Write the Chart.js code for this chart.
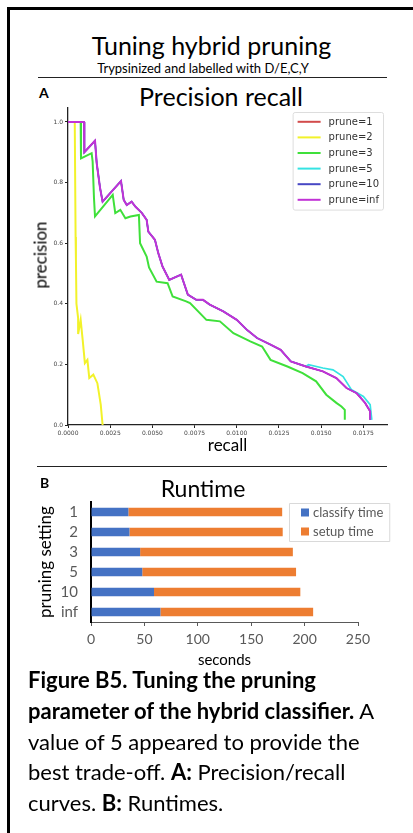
<!DOCTYPE html>
<html>
<head>
<meta charset="utf-8">
<script src="https://cdn.jsdelivr.net/npm/chart.js@4.4.1/dist/chart.umd.min.js"></script>
<style>
  html, body { margin: 0; padding: 0; background: #fff; }
  body { width: 413px; height: 833px; position: relative; overflow: hidden; font-family: Lato, "Open Sans", sans-serif; color: #000; }
  .frame { position: absolute; left: 7px; top: 7px; width: 420px; height: 840px; border-left: 3px solid #000; border-top: 3px solid #000; }
  .t { position: absolute; white-space: nowrap; line-height: 1; }
  .rule { position: absolute; height: 1px; background: #222; }
  .cap { position: absolute; left: 28px; top: 665px; font-size: 22px; line-height: 30.8px; white-space: nowrap; }
  .ytitle { position: absolute; left: 40px; top: 255px; transform: translate(-50%, -50%) rotate(-90deg); font-size: 17px; line-height: 1; white-space: nowrap; }
  canvas { position: absolute; left: 0; }
</style>
</head>
<body>
<div class="frame"></div>

<div class="t" style="left:10px;width:403px;text-align:center;top:33px;font-size:25px;">Tuning hybrid pruning</div>
<div class="t" style="left:0;width:406px;text-align:center;top:62px;font-size:13px;">Trypsinized and labelled with D/E,C,Y</div>
<div class="rule" style="left:38px;width:349px;top:77px;"></div>

<div class="t" style="left:39px;top:86px;font-size:14px;font-weight:bold;">A</div>
<div class="t" style="left:0;width:442px;text-align:center;top:84px;font-size:25px;">Precision recall</div>
<canvas id="prCanvas" width="413" height="390" style="top:80px;"></canvas>
<div class="ytitle">precision</div>

<div class="rule" style="left:37px;width:350px;top:466px;"></div>
<div class="t" style="left:40px;top:476px;font-size:14px;font-weight:bold;">B</div>
<div class="t" style="left:0;width:406px;text-align:center;top:477px;font-size:23px;">Runtime</div>
<canvas id="rtCanvas" width="413" height="200" style="top:470px;"></canvas>

<div class="cap">
  <div><b>Figure B5. Tuning the pruning</b></div>
  <div><b>parameter of the hybrid classifier.</b> A</div>
  <div>value of 5 appeared to provide the</div>
  <div>best trade-off. <b>A:</b> Precision/recall</div>
  <div>curves. <b>B:</b> Runtimes.</div>
</div>

<script>
// --- A: precision / recall curves ---
const recallInf = [0, 0.00095, 0.00097, 0.0016, 0.0017, 0.0019, 0.00205, 0.00314, 0.0033, 0.00348, 0.00377, 0.0040, 0.00437, 0.00466, 0.00476, 0.00515, 0.00535, 0.0056, 0.0060, 0.0067, 0.0071, 0.0076, 0.0080, 0.0084, 0.0092, 0.0100, 0.0106, 0.0112, 0.0120, 0.0126, 0.0132, 0.0141, 0.0151, 0.0159, 0.0165, 0.0171, 0.0176, 0.0179, 0.0179];
const precisionInf = [1.0, 1.0, 0.90, 0.938, 0.864, 0.782, 0.737, 0.805, 0.743, 0.726, 0.737, 0.72, 0.70, 0.677, 0.638, 0.611, 0.567, 0.523, 0.479, 0.496, 0.43, 0.413, 0.413, 0.397, 0.375, 0.347, 0.314, 0.287, 0.265, 0.248, 0.21, 0.193, 0.177, 0.155, 0.122, 0.105, 0.073, 0.045, 0.017];

const recall5 = [0, 0.00095, 0.00097, 0.0016, 0.0017, 0.0019, 0.00205, 0.00314, 0.0033, 0.00348, 0.00377, 0.0040, 0.00437, 0.00466, 0.00476, 0.00515, 0.00535, 0.0056, 0.0060, 0.0067, 0.0071, 0.0076, 0.0080, 0.0084, 0.0092, 0.0100, 0.0106, 0.0112, 0.0120, 0.0126, 0.0132, 0.0141, 0.01425, 0.0151, 0.0157, 0.0163, 0.0168, 0.0175, 0.0179, 0.0180];
const precision5 = [1.0, 1.0, 0.90, 0.938, 0.864, 0.782, 0.737, 0.805, 0.743, 0.726, 0.737, 0.72, 0.70, 0.677, 0.638, 0.611, 0.567, 0.523, 0.479, 0.496, 0.43, 0.413, 0.413, 0.397, 0.375, 0.347, 0.314, 0.287, 0.265, 0.248, 0.21, 0.193, 0.199, 0.188, 0.182, 0.16, 0.116, 0.094, 0.067, 0.017];

const recall3 = [0, 0.00075, 0.00077, 0.0014, 0.00146, 0.00154, 0.0016, 0.00265, 0.0028, 0.0031, 0.0034, 0.0037, 0.0042, 0.00427, 0.00466, 0.0048, 0.00525, 0.0059, 0.0062, 0.0070, 0.00723, 0.0082, 0.0090, 0.0098, 0.0108, 0.0115, 0.0120, 0.0130, 0.0139, 0.0147, 0.0153, 0.0159, 0.0162, 0.0164, 0.0164];
const precision3 = [1.0, 1.0, 0.88, 0.897, 0.869, 0.748, 0.688, 0.759, 0.699, 0.71, 0.682, 0.688, 0.693, 0.60, 0.556, 0.52, 0.473, 0.468, 0.424, 0.408, 0.402, 0.347, 0.342, 0.303, 0.276, 0.259, 0.215, 0.193, 0.171, 0.144, 0.10, 0.073, 0.061, 0.05, 0.017];

const recall2 = [0, 0.0004, 0.00045, 0.00047, 0.0005, 0.0006, 0.0006, 0.00075, 0.00087, 0.0010, 0.00115, 0.00126, 0.0015, 0.00174, 0.00194, 0.00205];
const precision2 = [1.0, 1.0, 0.62, 0.545, 0.40, 0.353, 0.30, 0.347, 0.281, 0.204, 0.215, 0.155, 0.166, 0.138, 0.067, 0.0];

// prune=1 and prune=10 sit exactly under prune=inf in the figure
const recall1 = recallInf, precision1 = precisionInf;
const recall10 = recallInf, precision10 = precisionInf;

const pruneLabels = ['prune=1', 'prune=2', 'prune=3', 'prune=5', 'prune=10', 'prune=inf'];
const pruneColors = ['#d24b4b', '#f2f22a', '#3fe03a', '#35e3e3', '#4747c4', '#c132d6'];
const pruneWidths = [1.4, 2, 2, 1.7, 1.4, 2];

// --- B: runtimes (seconds) ---
const settings = ['1', '2', '3', '5', '10', 'inf'];
const classifyTime = [35, 36, 46, 48, 59, 65];
const setupTime = [144, 143.5, 143, 144, 137, 143];

const toPoints = (xs, ys) => xs.map((x, i) => ({ x, y: ys[i] }));

// legend drawn inside the plot area
const insideLegend = {
  id: 'insideLegend',
  afterDraw(chart, args, o) {
    if (!o || !o.show) return;
    const { ctx } = chart;
    const sets = chart.data.datasets;
    ctx.save();
    ctx.font = o.font;
    const textW = Math.max(...sets.map(d => ctx.measureText(d.label).width));
    const w = o.padX + o.swatchW + o.gap + textW + o.padR;
    const h = o.padY * 2 + sets.length * o.rowH;
    const x0 = o.left != null ? o.left : o.right - w, y0 = o.top;
    ctx.fillStyle = 'rgba(255,255,255,0.9)';
    ctx.strokeStyle = o.boxColor;
    ctx.lineWidth = 1;
    ctx.beginPath();
    ctx.roundRect(x0 + 0.5, y0 + 0.5, w, h, o.radius);
    ctx.fill();
    ctx.stroke();
    sets.forEach((d, i) => {
      const cy = y0 + o.padY + o.rowH * (i + 0.5);
      const sx = x0 + o.padX;
      if (o.kind === 'line') {
        ctx.strokeStyle = d.borderColor;
        ctx.lineWidth = 2;
        ctx.beginPath();
        ctx.moveTo(sx, cy);
        ctx.lineTo(sx + o.swatchW, cy);
        ctx.stroke();
      } else {
        ctx.fillStyle = d.backgroundColor;
        ctx.fillRect(sx, cy - o.swatchW / 2, o.swatchW, o.swatchW);
      }
      ctx.fillStyle = o.textColor;
      ctx.textBaseline = 'middle';
      ctx.fillText(d.label, sx + o.swatchW + o.gap, cy + 0.5);
    });
    ctx.restore();
  },
};

const prData = [
  [recall1, precision1], [recall2, precision2], [recall3, precision3],
  [recall5, precision5], [recall10, precision10], [recallInf, precisionInf],
];
const drawOrder = [5, 4, 3, 2, 1, 0];

const tickFont = { family: 'DejaVu Sans', size: 6 };

new Chart(document.getElementById('prCanvas'), {
  type: 'scatter',
  plugins: [insideLegend],
  data: {
    datasets: prData.map(([xs, ys], i) => ({
      label: pruneLabels[i],
      data: toPoints(xs, ys),
      showLine: true,
      borderColor: pruneColors[i],
      backgroundColor: pruneColors[i],
      borderWidth: pruneWidths[i],
      pointRadius: 0,
      tension: 0,
      order: drawOrder[i],
    })),
  },
  options: {
    responsive: false,
    animation: false,
    devicePixelRatio: 1,
    layout: { padding: { left: 31, top: 28, right: 26, bottom: 14 } },
    scales: {
      x: {
        type: 'linear',
        min: 0,
        max: 0.0189,
        afterFit: (s) => { s.height = 31; },
        ticks: {
          stepSize: 0.0025,
          includeBounds: false,
          autoSkip: false,
          maxRotation: 0,
          padding: 2,
          font: tickFont,
          color: '#444',
          callback: (v) => v.toFixed(4),
        },
        grid: { drawOnChartArea: false, tickLength: 3, tickColor: '#222' },
        border: { color: '#222', width: 1.3 },
        title: { display: true, text: 'recall', font: { family: 'Lato', size: 17 }, color: '#000', padding: 0 },
      },
      y: {
        type: 'linear',
        min: 0,
        max: 1.046,
        afterFit: (s) => { s.width = 37; },
        ticks: {
          stepSize: 0.2,
          includeBounds: false,
          padding: 2,
          font: tickFont,
          color: '#444',
          callback: (v) => v.toFixed(1),
        },
        grid: { drawOnChartArea: false, tickLength: 3, tickColor: '#222' },
        border: { color: '#222', width: 1.3 },
      },
    },
    plugins: {
      legend: { display: false },
      tooltip: { enabled: false },
      insideLegend: {
        show: true, kind: 'line', right: 383, top: 32,
        font: '10px "DejaVu Sans"', textColor: '#333', boxColor: '#dddddd', radius: 2,
        padX: 5, padR: 4, padY: 2, swatchW: 23, gap: 8, rowH: 15.6,
      },
    },
  },
});

new Chart(document.getElementById('rtCanvas'), {
  type: 'bar',
  plugins: [insideLegend],
  data: {
    labels: settings,
    datasets: [
      { label: 'classify time', data: classifyTime, backgroundColor: '#4472c4', barPercentage: 0.42, categoryPercentage: 1 },
      { label: 'setup time', data: setupTime, backgroundColor: '#ed7d31', barPercentage: 0.42, categoryPercentage: 1 },
    ],
  },
  options: {
    indexAxis: 'y',
    responsive: false,
    animation: false,
    devicePixelRatio: 1,
    layout: { padding: { left: 35, top: 32, right: 55, bottom: 1 } },
    scales: {
      x: {
        stacked: true,
        min: 0,
        max: 250,
        afterFit: (s) => { s.height = 47; },
        ticks: { stepSize: 50, padding: 5, font: { family: 'Lato', size: 14 }, color: '#595959' },
        grid: { drawOnChartArea: false, tickLength: 4, tickColor: '#595959' },
        border: { color: '#595959', width: 1 },
        title: { display: true, text: 'seconds', font: { family: 'Lato', size: 15 }, color: '#000', padding: 0 },
      },
      y: {
        stacked: true,
        afterFit: (s) => { s.width = 56; },
        ticks: { autoSkip: false, padding: 13, font: { family: 'Lato', size: 15 }, color: '#595959' },
        grid: { display: false, drawTicks: false, tickLength: 0 },
        border: { display: true, color: '#000', width: 2 },
        title: { display: true, text: 'pruning setting', font: { family: 'Lato', size: 17 }, color: '#000', padding: 0 },
      },
    },
    plugins: {
      legend: { display: false },
      tooltip: { enabled: false },
      insideLegend: {
        show: true, kind: 'box', left: 289, top: 33,
        font: '13px Lato', textColor: '#595959', boxColor: '#d9d9d9', radius: 0,
        padX: 12, padR: 6, padY: 0, swatchW: 8, gap: 4, rowH: 19,
      },
    },
  },
});
</script>
</body>
</html>
